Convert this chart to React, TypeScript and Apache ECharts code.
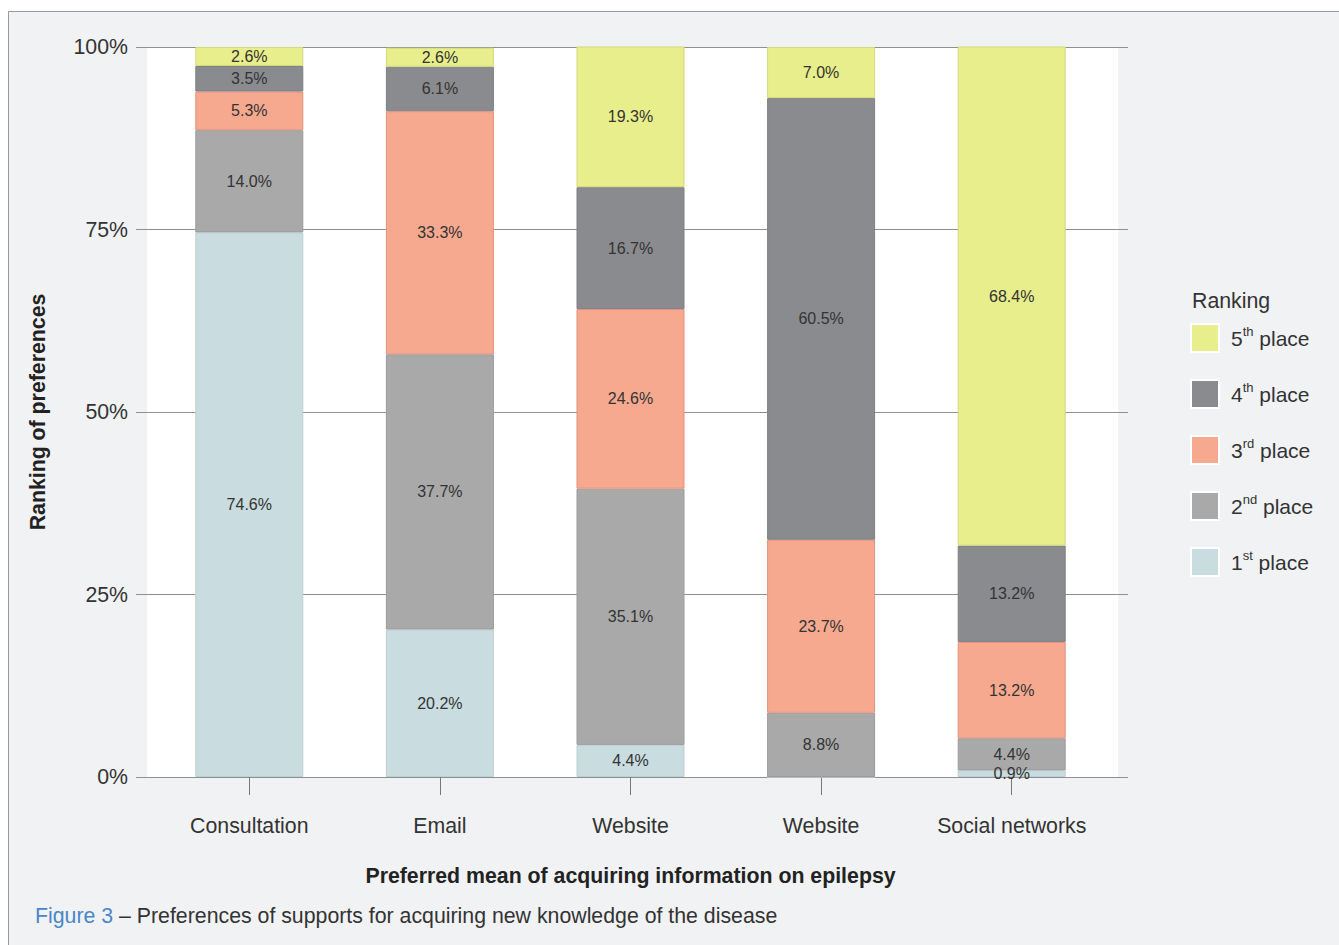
import React, { useEffect, useRef } from "react";
import * as echarts from "echarts";

const categories = ["Consultation", "Email", "Website", "Website", "Social networks"];
const seriesNames = ["1st place", "2nd place", "3rd place", "4th place", "5th place"];
const first = [74.6, 20.2, 4.4, 0, 0.9];
const second = [14.0, 37.7, 35.1, 8.8, 4.4];
const third = [5.3, 33.3, 24.6, 23.7, 13.2];
const fourth = [3.5, 6.1, 16.7, 60.5, 13.2];
const fifth = [2.6, 2.6, 19.3, 7.0, 68.4];
const seriesValues = [first, second, third, fourth, fifth];
const colors = ["#c9dcdf", "#a9a9aa", "#f7a990", "#8a8b8f", "#e8ee8c"];
const borderColors = ["#bccfd2", "#9b9b9c", "#e3917a", "#7e7f83", "#d3d97c"];
const yTicks = [0, 25, 50, 75, 100];

const FONT = "'Liberation Sans', Arial, sans-serif";

export default function App() {
  const ref = useRef<HTMLDivElement>(null);
  useEffect(() => {
    if (!ref.current) return;
    const chart = echarts.init(ref.current, null, { renderer: "svg" });
    const series = seriesNames.map((name, i) => ({
      name,
      type: "bar",
      stack: "total",
      xAxisIndex: 1,
      yAxisIndex: 1,
      barWidth: 108,
      data: seriesValues[i],
      itemStyle: { color: colors[i], borderColor: borderColors[i], borderWidth: 1 },
      label: {
        show: true,
        position: "inside",
        fontSize: 16,
        fontFamily: FONT,
        color: "#333",
        formatter: (p: any) => (p.value > 0 ? p.value.toFixed(1) + "%" : ""),
      },
    }));
    chart.setOption({
      animation: false,
      textStyle: { fontFamily: FONT },
      graphic: [
        {
          type: "rect",
          z: -10,
          shape: { x: 8.5, y: 11.5, width: 1345, height: 950 },
          style: { fill: "#f1f2f4", stroke: "#9a9a9a", lineWidth: 1 },
        },
        {
          type: "rect",
          z: -5,
          shape: { x: 147, y: 47, width: 971, height: 730 },
          style: { fill: "#ffffff" },
        },
        {
          type: "text",
          x: 1192,
          y: 301,
          style: { text: "Ranking", fontSize: 21.3, fontFamily: FONT, fill: "#333", verticalAlign: "middle" },
        },
        {
          type: "text",
          x: 35,
          y: 916,
          style: {
            text: "{b|Figure 3}{t| – Preferences of supports for acquiring new knowledge of the disease}",
            verticalAlign: "middle",
            rich: {
              b: { fontSize: 21.3, fontFamily: FONT, fill: "#4a86c8", color: "#4a86c8" },
              t: { fontSize: 21.3, fontFamily: FONT, fill: "#333", color: "#333" },
            },
          },
        },
      ],
      legend: {
        orient: "vertical",
        left: 1190,
        top: 323,
        padding: 0,
        itemWidth: 28,
        itemHeight: 28,
        itemGap: 26,
        icon: "rect",
        data: ["5th place", "4th place", "3rd place", "2nd place", "1st place"],
        itemStyle: { borderColor: "#ffffff", borderWidth: 2 },
        formatter: (name: string) => {
          const num = name.charAt(0);
          const suf = name.substring(1, 3);
          return `{n|${num}}{s|${suf}}{n| place}`;
        },
        textStyle: {
          padding: [0, 0, 0, 7],
          rich: {
            n: { fontSize: 21, fontFamily: FONT, color: "#333", lineHeight: 26 },
            s: { fontSize: 13, fontFamily: FONT, color: "#333", verticalAlign: "top", lineHeight: 16 },
          },
        },
      },
      grid: [
        { left: 136, width: 992, top: 47, height: 730 },
        { left: 154, width: 953, top: 47, height: 730 },
      ],
      xAxis: [
        { type: "value", gridIndex: 0, show: false, min: 0, max: 1 },
        {
          type: "category",
          gridIndex: 1,
          data: categories,
          axisLine: { show: false },
          axisTick: { show: true, alignWithLabel: true, length: 18, lineStyle: { color: "#777" } },
          axisLabel: { interval: 0, fontSize: 21.3, color: "#333", margin: 38, fontFamily: FONT },
          name: "Preferred mean of acquiring information on epilepsy",
          nameLocation: "middle",
          nameGap: 88,
          nameTextStyle: { fontSize: 21.3, fontWeight: "bold", color: "#222", fontFamily: FONT },
        },
      ],
      yAxis: [
        {
          type: "value",
          gridIndex: 0,
          min: yTicks[0],
          max: yTicks[yTicks.length - 1],
          interval: 25,
          axisLine: { show: false },
          axisTick: { show: false },
          axisLabel: { formatter: "{value}%", fontSize: 21.3, color: "#333", margin: 8, fontFamily: FONT },
          splitLine: { show: true, lineStyle: { color: "#8f8f8f", width: 1 } },
          name: "Ranking of preferences",
          nameLocation: "middle",
          nameGap: 88,
          nameTextStyle: { fontSize: 21.3, fontWeight: "bold", color: "#222", fontFamily: FONT },
        },
        { type: "value", gridIndex: 1, min: 0, max: 100, show: false },
      ],
      series,
    });
    return () => chart.dispose();
  }, []);
  return (
    <div
      ref={ref}
      style={{ position: "absolute", left: 0, top: 0, width: 1339, height: 945 }}
    />
  );
}
